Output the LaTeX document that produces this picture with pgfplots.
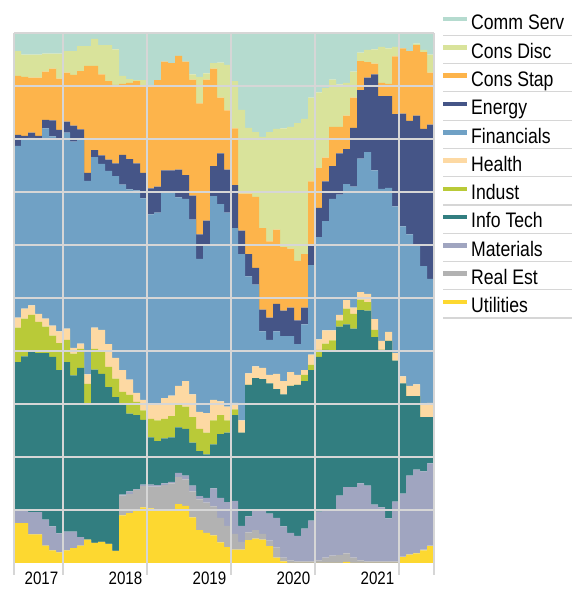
\documentclass[border=0pt]{standalone}
\usepackage{fontspec}
\setmainfont{Liberation Sans}[FakeStretch=0.84]
\usepackage{pgfplots}
\usepackage{pgfplotstable}
\pgfplotsset{compat=1.18}

\definecolor{cCom}{HTML}{B5DBCF}
\definecolor{cDisc}{HTML}{D9E39B}
\definecolor{cStap}{HTML}{FDB44B}
\definecolor{cEn}{HTML}{455587}
\definecolor{cFin}{HTML}{70A1C5}
\definecolor{cHea}{HTML}{FDD9A3}
\definecolor{cInd}{HTML}{B9CA38}
\definecolor{cIT}{HTML}{327E80}
\definecolor{cMat}{HTML}{A0A5C0}
\definecolor{cRE}{HTML}{B2B2B2}
\definecolor{cUtil}{HTML}{FDD830}
\definecolor{gridgray}{HTML}{D6D6D6}

\pgfplotstableread{
k Util RE Mat IT Ind Hea Fin En Stap Disc Comm
0 7.5 0 2.4 28.0 6.5 1.9 32.4 2.1 11.1 4.7 3.4
1 7.5 0 2.4 29.1 7.1 1.9 32.1 0.5 11.1 4.2 4.1
2 5.4 0 4.2 30.2 7.0 1.8 31.6 1.0 10.4 4.3 4.1
3 5.4 0 4.2 30.0 5.9 1.5 32.8 0.8 11.0 4.3 4.1
4 3.3 0 4.9 31.4 5.0 1.5 35.9 1.6 9.1 3.4 3.9
5 2.4 0 4.5 32.0 4.0 1.9 35.7 3.0 9.8 2.8 3.9
6 2.0 0 3.6 30.8 5.1 2.2 36.3 1.7 9.7 4.7 3.9
7 2.4 0 3.5 32.0 4.2 2.1 37.0 2.1 9.2 4.1 3.4
8 2.8 0 3.1 29.5 4.1 1.1 38.9 3.0 9.6 4.5 3.4
9 3.3 0 1.6 31.9 3.6 1.0 38.6 1.8 11.0 4.7 2.5
10 4.4 0 0 25.4 4.0 1.8 36.5 1.5 20.2 3.7 2.5
11 3.8 0 0 32.7 3.9 4.0 32.2 1.3 15.9 5.1 1.1
12 4.0 0 0 31.7 4.4 3.9 31.3 1.6 15.3 5.5 2.3
13 3.6 0 0 29.6 3.8 4.3 32.7 2.1 14.8 6.8 2.3
14 2.3 0 0 29.0 3.5 3.9 34.3 2.4 14.8 6.7 3.1
15 9.0 3.7 0.2 16.9 2.5 4.1 35.0 5.6 13.4 1.5 8.1
16 9.4 3.6 0.5 14.7 3.5 2.9 35.9 5.7 14.4 0.7 8.7
17 10.0 3.8 0.1 14.0 2.5 1.7 38.2 5.1 15.5 0.2 8.9
18 10.5 4.0 0.3 12.2 1.8 2.0 38.0 4.8 16.4 1.1 8.9
19 10.3 4.1 0.4 8.9 3.5 2.6 36.0 4.9 19.1 0 10.2
20 9.8 4.6 0.3 8.3 3.9 3.2 36.0 4.9 20.1 0 8.9
21 9.8 4.9 0.3 8.5 3.7 3.9 38.7 4.3 20.5 0 5.4
22 9.8 5.2 0.3 8.4 4.0 3.9 38.2 4.3 20.2 0 5.7
23 11.1 5.1 0.8 8.6 4.2 3.6 35.6 5.2 21.5 0 4.3
24 10.8 5.0 0.7 8.8 4.2 4.8 34.4 4.5 21.4 0 5.4
25 8.6 4.9 1.1 8.1 4.8 4.3 33.0 4.5 21.9 1.0 7.8
26 6.2 5.8 0.6 8.5 4.2 3.2 28.9 4.6 24.7 5.0 8.3
27 5.7 5.7 0.9 8.2 4.1 3.7 31.5 4.8 26.6 1.2 7.6
28 5.2 5.5 3.4 8.3 4.5 3.9 38.4 5.7 18.4 1.0 5.7
29 3.9 4.6 3.8 12.0 3.6 2.6 37.2 9.6 10.5 6.6 5.6
30 3.0 4.0 4.5 13.1 2.3 2.6 36.6 8.1 11.2 8.6 6.0
31 2.5 3.0 6.2 16.2 1.1 1.2 33.0 8.1 10.7 8.9 9.1
32 2.5 1.5 3.0 17.6 0 2.3 31.4 4.4 7.0 15.8 14.5
33 4.3 1.5 3.0 24.8 0 2.2 18.3 4.2 11.4 12.4 17.9
34 4.6 1.6 3.6 25.1 0 2.2 15.4 3.2 13.4 12.2 18.7
35 4.4 1.1 4.5 24.7 0 2.1 6.9 4.1 15.4 17.2 19.6
36 3.2 1.0 5.1 24.6 0 1.6 6.6 4.2 14.4 20.6 18.7
37 1.0 1.9 5.6 24.3 0 2.9 8.0 5.2 14.0 19.0 18.1
38 0.3 0.7 5.9 24.9 0 2.5 8.5 4.8 12.0 22.4 18.0
39 0 0.5 5.2 27.7 0 2.6 6.8 5.4 11.1 23.0 17.7
40 0 0.3 4.8 28.5 0 1.9 5.8 4.5 11.2 26.0 17.0
41 0 0.3 6.2 27.8 1.2 0.9 8.6 3.2 10.1 25.5 16.2
42 0 0.3 7.7 28.4 1.0 1.9 16.9 3.8 12.0 15.8 12.2
43 0 0.5 9.2 29.2 1.3 2.0 19.3 5.5 7.5 14.3 11.2
44 0 1.0 9.0 30.2 1.2 2.5 20.6 7.5 4.5 13.1 10.4
45 0 1.4 8.6 30.1 1.9 1.9 24.8 6.2 7.4 8.9 8.8
46 0 1.5 11.2 31.9 1.2 1.0 22.7 7.8 5.0 8.0 9.7
47 0.2 1.6 12.5 30.7 3.0 1.6 21.9 6.6 6.3 6.2 9.4
48 0 1.0 13.3 29.9 2.8 1.2 22.8 11.1 5.7 4.9 7.3
49 0 0.5 14.5 32.7 2.0 1.4 25.2 12.9 5.5 1.6 3.7
50 0 0.3 14.3 33.0 1.6 1.6 26.7 14.1 2.9 2.3 3.2
51 0 0.3 10.7 31.6 1.4 2.0 28.1 18.1 2.0 2.7 3.1
52 0 0.3 10.2 29.7 0 1.7 28.7 17.5 2.5 6.8 2.6
53 0 0.3 8.1 33.5 0 1.7 27.2 17.3 2.3 6.7 2.9
54 0 0.3 11.3 26.6 0 1.4 27.7 17.4 10.9 1.8 2.6
55 1.1 0.1 11.9 20.8 0 1.3 28.3 21.3 12.3 0 2.9
56 1.6 0.1 14.8 15.0 0 1.9 28.6 21.4 13.2 0 3.4
57 1.8 0.1 15.7 13.9 0 2.2 26.3 24.4 13.3 0.3 2.0
58 2.4 0.1 14.8 10.2 0 2.5 26.0 25.9 14.5 0.4 3.2
59 3.2 0.1 15.5 8.7 0 2.7 23.4 29.1 9.8 3.4 4.1
60 3.2 0.1 15.5 8.7 0 2.7 23.4 29.1 9.8 3.4 4.1
}\sectors

\begin{document}
\begin{tikzpicture}[x=1pt,y=1pt]
\useasboundingbox (0,0) rectangle (572,589);
\begin{axis}[
  at={(14pt,26pt)}, anchor=south west,
  scale only axis, width=420pt, height=530pt,
  xmin=0, xmax=60, ymin=0, ymax=100,
  stack plots=y,
  axis on top,
  separate axis lines,
  x axis line style={draw=none},
  y axis line style={draw=gridgray, line width=1.8pt},
  xtick={0,7,19,31,43,55,60},
  xticklabels={,2017,2018,2019,2020,2021,},
  xtick pos=bottom,
  xticklabel style={anchor=north east, inner sep=0pt, xshift=-4.5pt, yshift=2.8pt, font=\fontsize{18}{20}\selectfont},
  tick align=outside,
  major tick length=12pt,
  xtick style={draw=gridgray, line width=1.5pt},
  ytick={10,20,...,100},
  yticklabels={},
  ytick style={draw=none},
  grid=major,
  major grid style={draw=gridgray, line width=1.8pt},
  every axis plot/.append style={const plot mark left, draw=none},
]
\addplot[fill=cUtil] table[x=k,y=Util]{\sectors} \closedcycle;
\addplot[fill=cRE]   table[x=k,y=RE]{\sectors} \closedcycle;
\addplot[fill=cMat]  table[x=k,y=Mat]{\sectors} \closedcycle;
\addplot[fill=cIT]   table[x=k,y=IT]{\sectors} \closedcycle;
\addplot[fill=cInd]  table[x=k,y=Ind]{\sectors} \closedcycle;
\addplot[fill=cHea]  table[x=k,y=Hea]{\sectors} \closedcycle;
\addplot[fill=cFin]  table[x=k,y=Fin]{\sectors} \closedcycle;
\addplot[fill=cEn]   table[x=k,y=En]{\sectors} \closedcycle;
\addplot[fill=cStap] table[x=k,y=Stap]{\sectors} \closedcycle;
\addplot[fill=cDisc] table[x=k,y=Disc]{\sectors} \closedcycle;
\addplot[fill=cCom]  table[x=k,y=Comm]{\sectors} \closedcycle;
\end{axis}
\foreach \name/\col [count=\i from 0] in {Comm Serv/cCom, Cons Disc/cDisc, Cons Stap/cStap, Energy/cEn, Financials/cFin, Health/cHea, Indust/cInd, Info Tech/cIT, Materials/cMat, Real Est/cRE, Utilities/cUtil} {
  \pgfmathsetmacro\ys{589-19.2-28.27*\i}
  \pgfmathsetmacro\yb{589-30-28.27*\i}
  \pgfmathsetmacro\yl{589-35.3-28.27*\i}
  \draw[\col, line width=4.5pt] (443,\ys) -- (467,\ys);
  \node[anchor=base west, inner sep=0pt, font=\fontsize{21}{24}\selectfont] at (471,\yb) {\name};
  \draw[gridgray, line width=1.2pt] (443,\yl) -- (572,\yl);
}
\end{tikzpicture}
\end{document}
